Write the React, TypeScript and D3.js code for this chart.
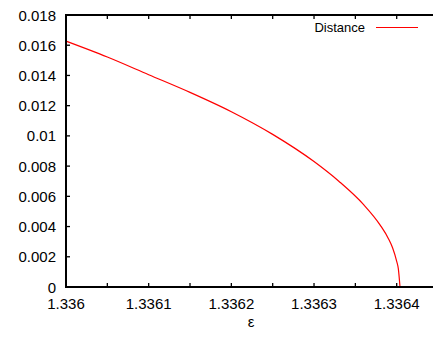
import React from "react";
import * as d3 from "d3";

const epsilon = [1.336, 1.33605, 1.3361, 1.33615, 1.3362, 1.33625, 1.3363, 1.33633, 1.33636, 1.33638, 1.33639, 1.336395, 1.3364, 1.336402, 1.336404];
const distance = [0.01627, 0.01522, 0.01405, 0.01288, 0.0116, 0.0101, 0.0083, 0.007, 0.00545, 0.0041, 0.0032, 0.0026, 0.0017, 0.0012, 0.0];

const xTicks = [1.336, 1.33605, 1.3361, 1.33615, 1.3362, 1.33625, 1.3363, 1.33635, 1.3364];
const xTickLabels = ["1.336", "", "1.3361", "", "1.3362", "", "1.3363", "", "1.3364"];
const yTicks = [0, 0.002, 0.004, 0.006, 0.008, 0.01, 0.012, 0.014, 0.016, 0.018];
const yTickLabels = ["0", "0.002", "0.004", "0.006", "0.008", "0.01", "0.012", "0.014", "0.016", "0.018"];

const W = 433, H = 338;
const left = 66, top = 15, bottom = 287;

export default function App() {
  const x = d3.scaleLinear().domain([1.336, 1.3364]).range([left, 396.7]);
  const y = d3.scaleLinear().domain([0, 0.018]).range([bottom, top]);
  const line = d3
    .line<number>()
    .x((_, i) => x(epsilon[i]))
    .y((d) => y(d))
    .curve(d3.curveMonotoneX);
  const font = "'Liberation Sans', Arial, sans-serif";
  return (
    <svg width={W} height={H} style={{ position: "absolute", left: 0, top: 0, background: "#fff", overflow: "hidden", display: "block" }}>
      <rect width={W} height={H} fill="#fff" />
      <path d={line(distance) || ""} fill="none" stroke="#ff0000" strokeWidth={1.2} />
      {xTicks.map((t, i) => (
        <g key={"x" + i}>
          <line x1={x(t)} x2={x(t)} y1={bottom} y2={bottom - 4} stroke="#000" strokeWidth={1.3} />
          <line x1={x(t)} x2={x(t)} y1={top} y2={top + 4} stroke="#000" strokeWidth={1.3} />
          {xTickLabels[i] && (
            <text x={x(t)} y={309} textAnchor="middle" fontFamily={font} fontSize={15}>{xTickLabels[i]}</text>
          )}
        </g>
      ))}
      {yTicks.map((t, i) => (
        <g key={"y" + i}>
          <line x1={left} x2={left + 4} y1={y(t)} y2={y(t)} stroke="#000" strokeWidth={1.3} />
          <text x={56} y={y(t) + 5.5} textAnchor="end" fontFamily={font} fontSize={15}>{yTickLabels[i]}</text>
        </g>
      ))}
      <path d={`M${W},${top}H${left}V${bottom}H${W}`} fill="none" stroke="#000" strokeWidth={2} />
      <text x={365} y={32} textAnchor="end" fontFamily={font} fontSize={13}>Distance</text>
      <line x1={376} x2={418} y1={27.5} y2={27.5} stroke="#ff0000" strokeWidth={1.2} />
      <text x={251} y={327} textAnchor="middle" fontFamily={font} fontSize={15}>ε</text>
    </svg>
  );
}
